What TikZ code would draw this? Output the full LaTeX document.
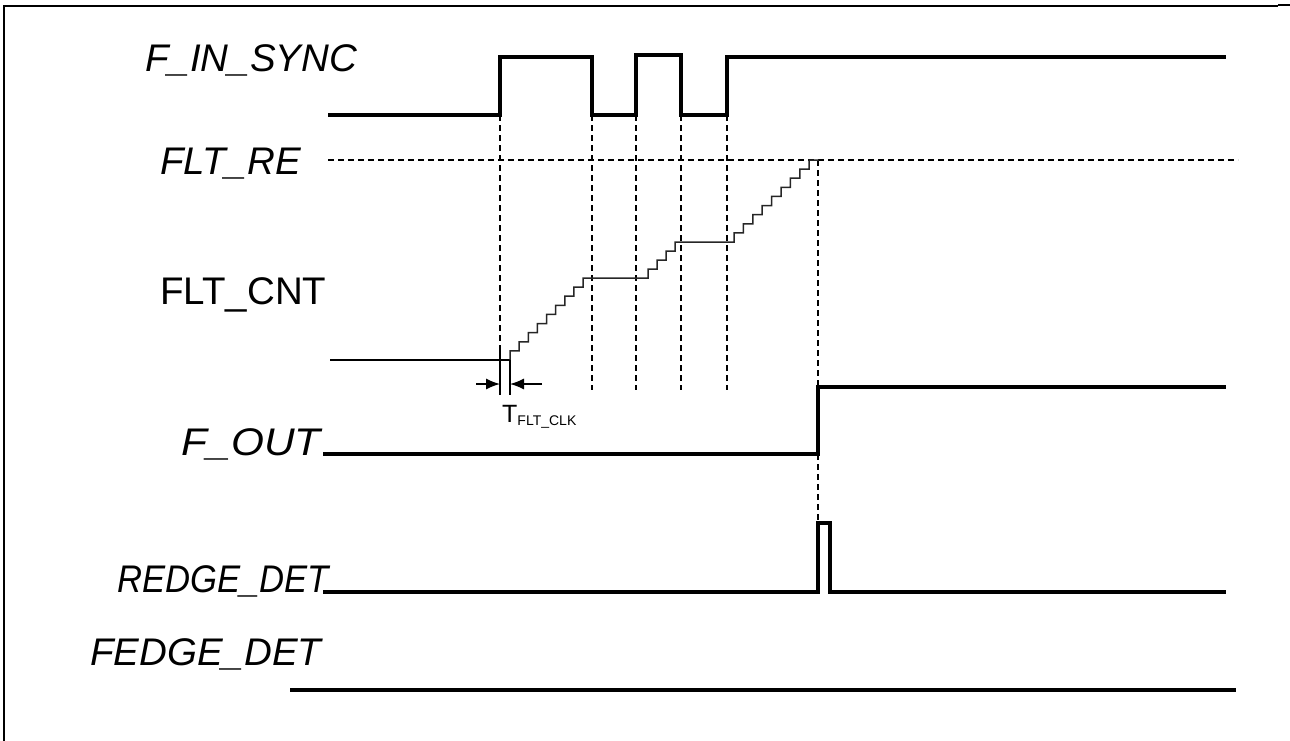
\documentclass[tikz,border=0pt]{standalone}
\usepackage{fontspec}
\setmainfont{Liberation Sans}
\usetikzlibrary{arrows.meta}
\begin{document}
\begin{tikzpicture}[x=1pt,y=-1pt,
  sig/.style={line width=3.4pt},
  guide/.style={line width=2.4pt, dash pattern=on 6pt off 4pt},
  thinline/.style={line width=1.3pt},
  stair/.style={line width=1.5pt, black!85},
  lbl/.style={font=\fontsize{38.5}{40}\selectfont\itshape, inner sep=0pt, anchor=base west},
  dim/.style={line width=1.3pt, -{Latex[length=14pt,width=11pt]}}]
\useasboundingbox (0,0) rectangle (1290,740);
% frame
\draw[line width=1.6pt] (4,741) -- (4,6) -- (1278,6);
\draw[line width=2.5pt] (1278,5) -- (1290,5);
% labels
\node[lbl] (lfin) at (145,71) {F\_IN\_SYNC};
\node[lbl] (lre) at (160,174) {FLT\_RE};
\node[lbl, font=\fontsize{38.5}{40}\selectfont] (lcnt) at (160,304) {FLT\_CNT};
\node[lbl, anchor=base east] (lout) at (321,455) {\scalebox{1.1}[1]{F\_OUT}};
\node[lbl, anchor=base east] (lred) at (329,592) {\scalebox{0.9}[1]{REDGE\_DET}};
\node[lbl] (lfed) at (90,665) {FEDGE\_DET};
% guides
\draw[guide] (328,160) -- (1238,160);
\draw[guide] (500,115) -- (500,352);
\foreach \x in {592,636,681,727} \draw[guide] (\x,115) -- (\x,390);
\draw[guide] (818,160) -- (818,387);
\draw[guide] (818,454) -- (818,523);
% F_IN_SYNC
\draw[sig] (328,115) -- (500,115) -- (500,57) -- (592,57) -- (592,115) -- (636,115) -- (636,55) -- (681,55) -- (681,115) -- (727,115) -- (727,57) -- (1226,57);
% FLT_CNT
\draw[thinline] (330,360) -- (510,360);
\draw[stair] (510,360) foreach \i in {1,...,9} { -- ++(0,-9.11) -- ++(9.125,0) } -- (648,278)
  foreach \i in {1,...,4} { -- ++(0,-9) -- ++(9,0) } -- (734,242)
  foreach \i in {1,...,9} { -- ++(0,-9.11) -- ++(9.4,0) };
% T_FLT_CLK dimension
\draw[thinline] (500,350) -- (500,395);
\draw[thinline] (510,360) -- (510,395);
\coordinate (dl) at (476,384);
\coordinate (dla) at (500,384);
\coordinate (dr) at (542,384);
\coordinate (dra) at (510,384);
\draw[dim] (dl) -- (dla);
\draw[dim] (dr) -- (dra);
\node[anchor=base west, inner sep=0pt] (tclk) at (502,422) {\fontsize{25}{26}\selectfont T\raisebox{-3pt}{\fontsize{14}{15}\selectfont FLT\_CLK}};
% F_OUT
\draw[sig] (323,454) -- (818,454) -- (818,387) -- (1226,387);
% REDGE_DET
\draw[sig] (323,592) -- (818,592) -- (818,523) -- (830,523) -- (830,592) -- (1226,592);
% FEDGE_DET
\draw[sig] (290,690) -- (1236,690);
\end{tikzpicture}
\end{document}
